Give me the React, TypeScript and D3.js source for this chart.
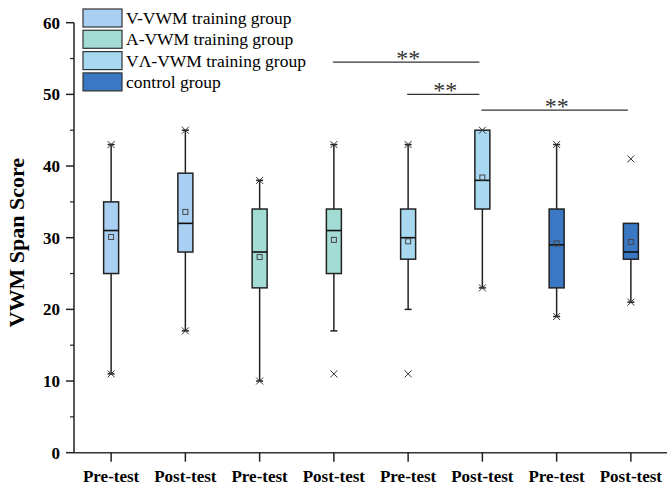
import React from 'react'
import * as d3 from 'd3'

// tick labels along x
const categories = ['Pre-test', 'Post-test', 'Pre-test', 'Post-test', 'Pre-test', 'Post-test', 'Pre-test', 'Post-test']
const groupOf = [0, 0, 1, 1, 2, 2, 3, 3]
const groupNames = ['V-VWM training group', 'A-VWM training group', 'V\u039B-VWM training group', 'control group']
const groupColors = ['#a9cff2', '#a3dcd5', '#a8d9f0', '#3a78c4']

// box statistics
const q1 = [25, 28, 23, 25, 27, 34, 23, 27]
const median = [31, 32, 28, 31, 30, 38, 29, 28]
const q3 = [35, 39, 34, 34, 34, 45, 34, 32]
const mean = [30.1, 33.6, 27.3, 29.7, 29.5, 38.4, 29.2, 29.4]
const whiskerLow = [11, 17, 10, 17, 20, 23, 19, 21]
const whiskerHigh = [43, 45, 38, 43, 43, 45, 43, 32]
// "x" markers (extremes / outliers)
const markers = [[11, 43], [17, 45], [10, 38], [11, 43], [11, 43], [23, 45], [19, 43], [21, 41]]

// significance brackets: [from index, to index, y value]
const sigPairs = [[3, 5, 54.5], [4, 5, 50], [5, 7, 47.8]]

const yTicks = [0, 10, 20, 30, 40, 50, 60]
const yMinor = [5, 15, 25, 35, 45, 55]

const W = 667
const H = 490
const serif = '"Liberation Serif", "Times New Roman", serif'

export default function App() {
    const x = d3.scaleBand<number>()
        .domain(d3.range(categories.length))
        .range([74, 668])
    const y = d3.scaleLinear().domain([0, 60]).range([452.7, 22.7])
    const bw = 15
    const cap = 7
    const half = 3.5

    const cx = (i: number) => (x(i) as number) + x.bandwidth() / 2

    return (
        <div style={{ position: 'absolute', left: 0, top: 0 }}>
            <svg width={W} height={H} style={{ display: 'block', background: '#fff' }}>
                {/* y axis */}
                <line x1={74} x2={74} y1={y(60)} y2={y(0)} stroke="#222" strokeWidth={1.5} />
                {yTicks.map(t => (
                    <g key={'yt' + t}>
                        <line x1={66} x2={74} y1={y(t)} y2={y(t)} stroke="#222" strokeWidth={1.5} />
                        <text x={60} y={y(t)} dy="0.35em" textAnchor="end"
                            fontFamily={serif} fontWeight="bold" fontSize={17}>{t}</text>
                    </g>
                ))}
                {yMinor.map(t => (
                    <line key={'ym' + t} x1={70} x2={74} y1={y(t)} y2={y(t)} stroke="#222" strokeWidth={1.2} />
                ))}
                <text transform={`translate(24,${y(30) + 5}) rotate(-90)`} textAnchor="middle"
                    fontFamily={serif} fontWeight="bold" fontSize={22}>VWM Span Score</text>

                {/* x axis */}
                <line x1={74} x2={668} y1={y(0)} y2={y(0)} stroke="#333" strokeWidth={1.5} />
                {categories.map((c, i) => (
                    <g key={'xt' + i}>
                        <line x1={cx(i)} x2={cx(i)} y1={y(0)} y2={y(0) + 9} stroke="#222" strokeWidth={1.5} />
                        <text x={cx(i)} y={482} textAnchor="middle"
                            fontFamily={serif} fontWeight="bold" fontSize={17}>{c}</text>
                    </g>
                ))}

                {/* boxes */}
                {categories.map((c, i) => {
                    const px = cx(i)
                    const col = groupColors[groupOf[i]]
                    return (
                        <g key={'box' + i}>
                            <line x1={px} x2={px} y1={y(whiskerLow[i])} y2={y(q1[i])} stroke="#222" strokeWidth={1.5} />
                            <line x1={px} x2={px} y1={y(q3[i])} y2={y(whiskerHigh[i])} stroke="#222" strokeWidth={1.5} />
                            <line x1={px - cap / 2} x2={px + cap / 2} y1={y(whiskerLow[i])} y2={y(whiskerLow[i])} stroke="#222" strokeWidth={1.5} />
                            {whiskerHigh[i] > q3[i] && (
                                <line x1={px - cap / 2} x2={px + cap / 2} y1={y(whiskerHigh[i])} y2={y(whiskerHigh[i])} stroke="#222" strokeWidth={1.5} />
                            )}
                            <rect x={px - bw / 2} y={y(q3[i])} width={bw} height={y(q1[i]) - y(q3[i])}
                                fill={col} stroke="#222" strokeWidth={1.5} />
                            <line x1={px - bw / 2} x2={px + bw / 2} y1={y(median[i])} y2={y(median[i])} stroke="#111" strokeWidth={1.6} />
                            <rect x={px - 2.5} y={y(mean[i]) - 2.5} width={5} height={5}
                                fill="none" stroke="#444" strokeWidth={1} />
                            {markers[i].map((m, k) => (
                                <g key={k} stroke="#333" strokeWidth={1}>
                                    <line x1={px - half} x2={px + half} y1={y(m) - half} y2={y(m) + half} />
                                    <line x1={px - half} x2={px + half} y1={y(m) + half} y2={y(m) - half} />
                                </g>
                            ))}
                        </g>
                    )
                })}

                {/* significance */}
                {sigPairs.map(([a, b, v], k) => (
                    <g key={'sig' + k}>
                        <line x1={cx(a) - 1} x2={cx(b) - 3} y1={y(v)} y2={y(v)} stroke="#333" strokeWidth={1.3} />
                        <text x={(cx(a) + cx(b)) / 2} y={y(v) + 4} textAnchor="middle"
                            fontFamily={serif} fontSize={24} fill="#333">**</text>
                    </g>
                ))}

                {/* legend */}
                {groupNames.map((g, k) => (
                    <g key={'lg' + k} transform={`translate(83,${9 + k * 21.3})`}>
                        <rect x={0} y={0} width={39} height={18} fill={groupColors[k]} stroke="#333" strokeWidth={1.2} />
                        <text x={43} y={9} dy="0.35em" fontFamily={serif} fontSize={17.5}>{g}</text>
                    </g>
                ))}
            </svg>
        </div>
    )
}
